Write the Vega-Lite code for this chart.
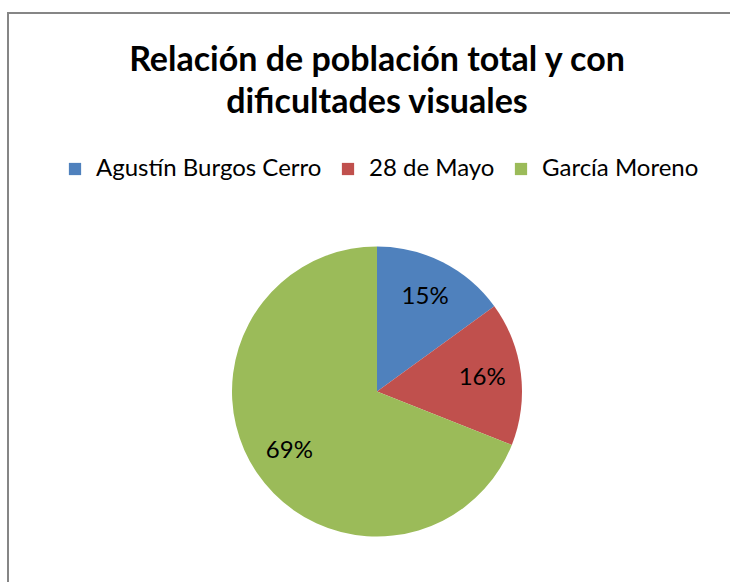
{
  "$schema": "https://vega.github.io/schema/vega-lite/v6.json",
  "width": 738,
  "height": 757,
  "autosize": {"type": "none"},
  "padding": {"left": 8, "top": 13, "right": 0, "bottom": 0},
  "background": "white",
  "view": {"stroke": "#868686", "strokeWidth": 2, "fill": null},
  "config": {"view": {"stroke": "#868686", "strokeWidth": 2}},
  "title": {
    "text": ["Relación de población total y con", "dificultades visuales"],
    "anchor": "middle",
    "orient": "top",
    "offset": -134,
    "baseline": "alphabetic",
    "font": "Lato",
    "fontSize": 34,
    "fontWeight": "bold",
    "lineHeight": 42,
    "color": "#000000"
  },
  "data": {
    "values": [
      {"zona": "Agustín Burgos Cerro", "pct": 15, "orden": 1, "label": "15%"},
      {"zona": "28 de Mayo", "pct": 16, "orden": 2, "label": "16%"},
      {"zona": "García Moreno", "pct": 69, "orden": 3, "label": "69%"}
    ]
  },
  "encoding": {
    "theta": {"field": "pct", "type": "quantitative", "stack": true},
    "order": {"field": "orden", "type": "quantitative"},
    "color": {
      "field": "zona",
      "type": "nominal",
      "sort": ["Agustín Burgos Cerro", "28 de Mayo", "García Moreno"],
      "scale": {
        "domain": ["Agustín Burgos Cerro", "28 de Mayo", "García Moreno"],
        "range": ["#4F81BD", "#C0504D", "#9BBB59"]
      },
      "legend": {
        "orient": "none",
        "legendX": 55,
        "legendY": 144,
        "direction": "horizontal",
        "title": null,
        "symbolType": "square",
        "symbolSize": 150,
        "symbolStrokeWidth": 0,
        "labelFont": "Lato",
        "labelFontSize": 24,
        "labelLimit": 400,
        "labelColor": "#000000",
        "columnPadding": 14,
        "labelOffset": 9,
        "padding": 0
      }
    }
  },
  "layer": [
    {"mark": {"type": "arc", "outerRadius": 145}},
    {
      "mark": {"type": "text", "radius": 106, "fontSize": 24, "font": "Lato"},
      "encoding": {
        "text": {"field": "label", "type": "nominal"},
        "color": {"value": "#000000"}
      }
    }
  ]
}
